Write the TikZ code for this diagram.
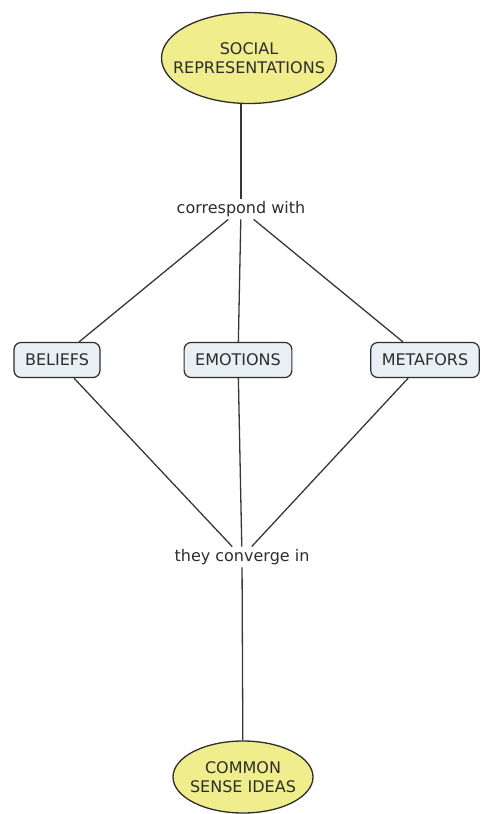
\documentclass[tikz,border=0pt]{standalone}
\usepackage{fontspec}
\setmainfont{DejaVu Sans}
\usetikzlibrary{shapes.geometric}
\definecolor{ink}{RGB}{45,45,45}
\definecolor{wire}{RGB}{55,55,55}
\definecolor{yolk}{RGB}{240,237,140}
\definecolor{card}{RGB}{232,240,243}
\tikzset{
  concept/.style={ellipse,draw=ink,fill=yolk,line width=1.3pt,align=center,text=ink,
    inner xsep=-16pt,inner ysep=0pt,font=\fontsize{16}{19.5}\selectfont},
  term/.style={draw=ink,fill=card,rounded corners=7pt,line width=1.2pt,text=ink,
    inner xsep=11pt,minimum height=35pt,font=\fontsize{16}{19.5}\selectfont},
  phrase/.style={inner sep=2.5pt,text=ink,font=\fontsize{16}{19.5}\selectfont},
  wire/.style={draw=wire,line width=1.3pt},
}

\begin{document}
\begin{tikzpicture}[x=1pt,y=-1pt]
\useasboundingbox (0,0) rectangle (481,814);
\node[concept,minimum width=175pt,minimum height=91pt] (social) at (249,58)
  {SOCIAL\\REPRESENTATIONS};
\node[phrase] (corr) at (241,209) {correspond with};
\node[term] (beliefs) at (57,360) {BELIEFS};
\node[term] (emotions) at (238,360) {EMOTIONS};
\node[term] (metafors) at (425,360) {METAFORS};
\node[phrase] (conv) at (242,557) {they converge in};
\node[concept,minimum width=140pt,minimum height=72pt] (common) at (243,777)
  {COMMON\\SENSE IDEAS};
% links
\draw[wire] (corr |- social.south) -- (corr);
\draw[wire] (corr) -- (beliefs);
\draw[wire] (corr) -- (emotions);
\draw[wire] (corr) -- (metafors);
\draw[wire] (beliefs) -- (conv);
\draw[wire] (emotions) -- (conv);
\draw[wire] (metafors) -- (conv);
\draw[wire] (conv) -- (common);
\end{tikzpicture}
\end{document}
